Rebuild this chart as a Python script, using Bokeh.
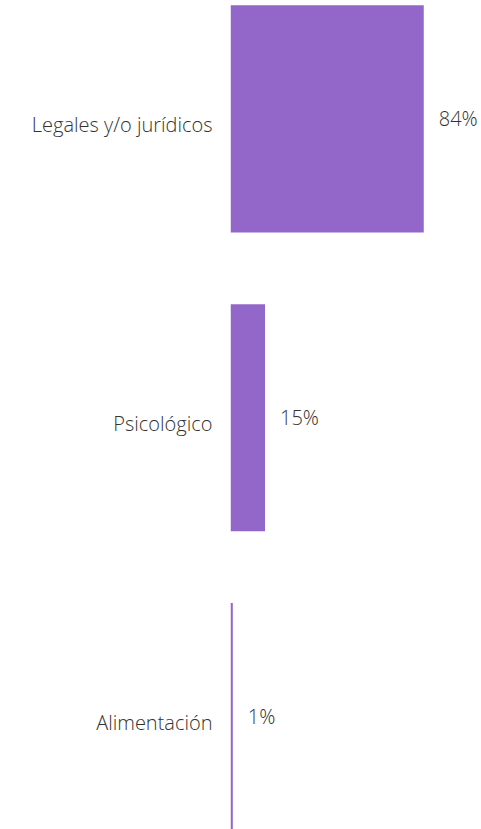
from bokeh.plotting import figure
from bokeh.models import Range1d, FixedTicker, ColumnDataSource
from bokeh.core.properties import value
from bokeh.embed import file_html
from bokeh.resources import INLINE

categories = ["Legales y/o jurídicos", "Psicológico", "Alimentación"]
percentages = [84, 15, 1]
value_labels = ["84%", "15%", "1%"]

positions = list(range(len(categories)))
src = ColumnDataSource(dict(y=positions, v=percentages, lab=value_labels))

FONT = "'Open Sans Light', 'Open Sans'"
p = figure(width=481, height=829, output_backend="svg", toolbar_location=None,
           x_range=Range1d(0, 109.1), y_range=Range1d(2.378, -0.396),
           min_border_left=230, min_border_right=0, min_border_top=0, min_border_bottom=0,
           outline_line_color=None)
p.hbar(y="y", left=0, right="v", height=0.76, source=src,
       fill_color="#9366c9", line_color=None)
p.text(x="v", y="y", text="lab", source=src, x_offset=15,
       text_align="left", text_baseline="middle",
       text_font=value(FONT), text_font_size="20px", text_color="#333333")

p.xaxis.visible = False
p.grid.visible = False
ya = p.yaxis[0]
label_ticks = [i + 0.02 for i in positions]
ya.ticker = FixedTicker(ticks=label_ticks)
ya.major_label_overrides = {t: c for t, c in zip(label_ticks, categories)}
ya.axis_line_color = None
ya.major_tick_line_color = None
ya.minor_tick_line_color = None
ya.major_tick_out = 0
ya.major_tick_in = 0
ya.major_label_standoff = 18
ya.major_label_text_font = FONT
ya.major_label_text_font_size = "20px"
ya.major_label_text_color = "#333333"

open("out.html", "w").write(file_html(p, INLINE))
